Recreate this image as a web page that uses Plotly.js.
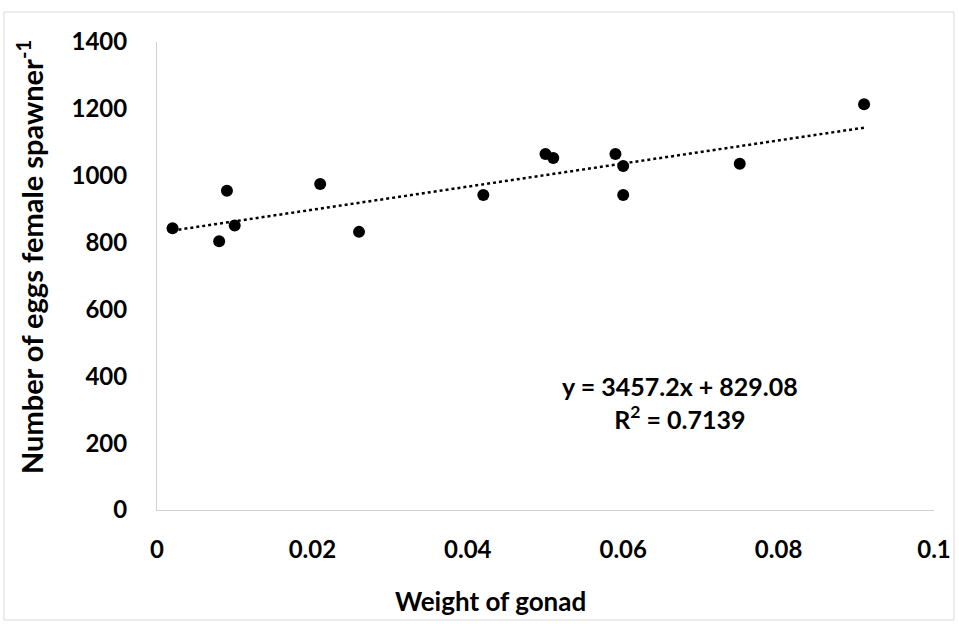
<!DOCTYPE html>
<html>
<head>
<meta charset="utf-8">
<script src="https://cdn.plot.ly/plotly-3.0.1.min.js"></script>
<style>
  html, body { margin: 0; padding: 0; background: #fff; }
  #chart { width: 959px; height: 624px; }
</style>
</head>
<body>
<div id="chart"></div>
<script>
// Data
const gonadWeight = [0.002, 0.008, 0.009, 0.010, 0.021, 0.026, 0.042, 0.050, 0.051, 0.059, 0.060, 0.060, 0.075, 0.091];
const eggsPerFemale = [843, 804, 955, 851, 975, 832, 942, 1065, 1053, 1065, 1029, 942, 1036, 1214];

// Trend line reported on the chart
const trendSlope = 3457.2;
const trendIntercept = 829.08;
const trendR2 = 0.7139;

const xTickVals = [0, 0.02, 0.04, 0.06, 0.08, 0.1];
const xTickText = ['0', '0.02', '0.04', '0.06', '0.08', '0.1'];
const yTickVals = [0, 200, 400, 600, 800, 1000, 1200, 1400];

const xTitle = 'Weight of gonad';
const yTitle = 'Number of eggs female spawner<sup>-1</sup>';

const xMin = Math.min(...gonadWeight);
const xMax = Math.max(...gonadWeight);
const trendX = [xMin, xMax];
const trendY = trendX.map(v => trendSlope * v + trendIntercept);

const FONT = 'Lato, "Open Sans", "Liberation Sans", sans-serif';

const traces = [
  {
    x: trendX, y: trendY, type: 'scatter', mode: 'lines',
    line: { color: '#000', width: 2.5, dash: 'dot' },
    hoverinfo: 'skip', showlegend: false
  },
  {
    x: gonadWeight, y: eggsPerFemale, type: 'scatter', mode: 'markers',
    marker: { color: '#000', size: 12 },
    showlegend: false
  }
];

const layout = {
  width: 959, height: 624,
  margin: { l: 157, r: 25, t: 42, b: 114 },
  paper_bgcolor: '#fff', plot_bgcolor: '#fff',
  font: { family: FONT, color: '#000', size: 20 },
  showlegend: false,
  xaxis: {
    range: [0, 0.1], tickvals: xTickVals, ticktext: xTickText,
    showgrid: false, zeroline: false,
    showline: true, linecolor: '#d0d0d0', linewidth: 1,
    ticks: '', ticklabelstandoff: 18,
    tickfont: { family: FONT, size: 24, color: '#000', weight: 'bold' }
  },
  yaxis: {
    range: [0, 1400], tickvals: yTickVals,
    showgrid: false, zeroline: false,
    showline: true, linecolor: '#d0d0d0', linewidth: 1,
    ticks: '', ticklabelstandoff: 24,
    tickfont: { family: FONT, size: 24, color: '#000', weight: 'bold' }
  },
  annotations: [
    {
      xref: 'paper', yref: 'paper', x: 0.4286, y: -0.1944,
      xanchor: 'center', yanchor: 'middle', showarrow: false,
      text: xTitle,
      font: { family: FONT, size: 26, color: '#000', weight: 'bold' }
    },
    {
      xref: 'paper', yref: 'paper', x: -0.1634, y: 0.5406,
      xanchor: 'center', yanchor: 'middle', showarrow: false, textangle: -90,
      text: yTitle,
      font: { family: FONT, size: 29, color: '#000', weight: 'bold' }
    },
    {
      xref: 'paper', yref: 'paper', x: 0.673, y: 0.229,
      xanchor: 'center', yanchor: 'middle', align: 'center', showarrow: false,
      text: 'y = ' + trendSlope + 'x + ' + trendIntercept + '<br>R<sup>2</sup> = ' + trendR2,
      font: { family: FONT, size: 25, color: '#000', weight: 'bold' }
    }
  ],
  shapes: [
    {
      type: 'rect', xref: 'paper', yref: 'paper',
      x0: -0.197, x1: 1.0257, y0: -0.235, y1: 1.064,
      line: { color: '#d9d9d9', width: 1 }, fillcolor: 'rgba(0,0,0,0)', layer: 'below'
    }
  ]
};

Plotly.newPlot('chart', traces, layout, { displayModeBar: false, staticPlot: true });
</script>
</body>
</html>
